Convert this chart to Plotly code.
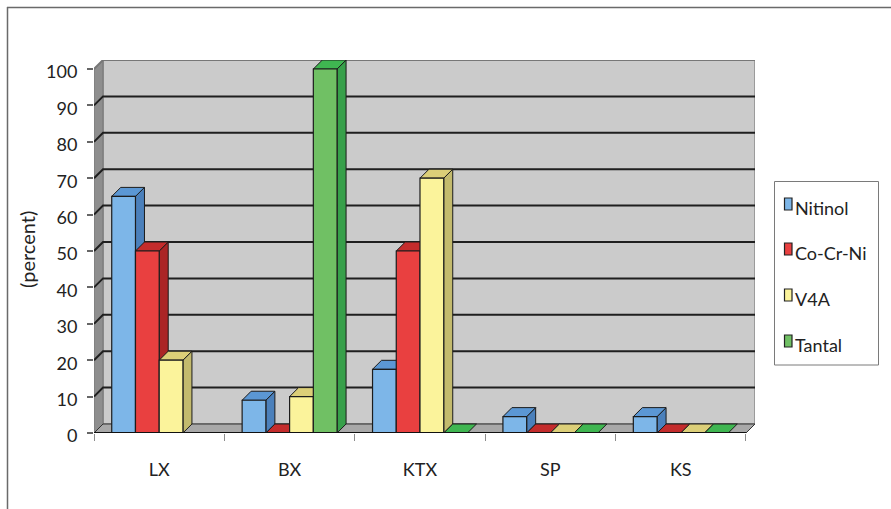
import plotly.graph_objects as go

# Chart data (None where a material has no bar in that group)
categories = ["LX", "BX", "KTX", "SP", "KS"]
nitinol = [65, 9, 17.5, 4.5, 4.5]
co_cr_ni = [50, 0, 50, 0, 0]
v4a = [20, 10, 70, 0, 0]
tantal = [None, 100, 0, 0, 0]
series_names = ["Nitinol", "Co-Cr-Ni", "V4A", "Tantal"]
y_ticks = list(range(0, 101, 10))

# front, top and side colours per series
front_colors = ["#7db6e8", "#e94040", "#fbf39b", "#70c064"]
top_colors = ["#5b97d4", "#c42c2c", "#dccf78", "#3fb651"]
side_colors = ["#4b80bb", "#ab2526", "#c3ba6d", "#37a04a"]

# Page geometry
W, H = 891, 509
L, R, T, B = 94, 755, 60, 433
FONT = "Lato"
TEXT = "#222222"

# Depth of the pseudo-3D box, in axis units
cat_px = 130.2
val_px = 3.64
dx = 9 / cat_px
dy = 9 / val_px
x_max = len(categories) + dx
y_max = 100 + dy

# Bar layout inside each category
group_frac = 0.728
bar_w = group_frac / len(series_names)


def poly(points, fill, line="#1c1c1c", width=1.0):
    path = "M" + " L".join(f"{x},{y}" for x, y in points) + " Z"
    return dict(type="path", path=path, xref="x", yref="y", layer="below",
                fillcolor=fill, line=dict(color=line, width=width))


def seg(points, color, width):
    path = "M" + " L".join(f"{x},{y}" for x, y in points)
    return dict(type="path", path=path, xref="x", yref="y", layer="below",
                line=dict(color=color, width=width))


def px(x):
    return (x - L) / (R - L)


def py(y):
    return (B - y) / (B - T)


shapes = []
# back wall, side wall and floor
shapes.append(poly([(dx, dy), (x_max, dy), (x_max, y_max), (dx, y_max)], "#cbcbcb", "#8c8c8c", 1.5))
shapes.append(poly([(0, 0), (dx, dy), (dx, y_max), (0, 100)], "#8e8e8e", "#777777", 1))
shapes.append(poly([(0, 0), (len(categories), 0), (x_max, dy), (dx, dy)], "#a8a8a8", "#333333", 1))

# gridlines running across the side wall and the back wall
for v in y_ticks[1:-1]:
    shapes.append(seg([(0, v), (dx, v + dy), (x_max, v + dy)], "#1f1f1f", 2))
shapes.append(seg([(0, 100), (dx, y_max), (x_max, y_max)], "#777777", 2))

# side and top faces of the bars, back to front within each group
all_series = [nitinol, co_cr_ni, v4a, tantal]
for c in range(len(categories)):
    for s, values in enumerate(all_series):
        v = values[c]
        if v is None:
            continue
        x0 = c + 0.5 - group_frac / 2 + s * bar_w
        x1 = x0 + bar_w
        if v > 0:
            shapes.append(poly([(x1, 0), (x1 + dx, dy), (x1 + dx, v + dy), (x1, v)], side_colors[s]))
        shapes.append(poly([(x0, v), (x1, v), (x1 + dx, v + dy), (x0 + dx, v + dy)], top_colors[s]))

# outer frame
shapes.append(dict(type="line", xref="paper", yref="paper", x0=px(7), x1=px(891), y0=py(7.5), y1=py(7.5),
                   line=dict(color="#6a6a6a", width=1.5)))
shapes.append(dict(type="line", xref="paper", yref="paper", x0=px(7.5), x1=px(7.5), y0=py(7), y1=py(509),
                   line=dict(color="#6a6a6a", width=1.5)))

# legend box with its keys and labels
shapes.append(dict(type="rect", xref="paper", yref="paper", x0=px(774.5), x1=px(878.5), y0=py(181.5), y1=py(365),
                   line=dict(color="#7a7a7a", width=1), fillcolor="white"))
legend_rows = [205, 250, 296, 342]
annotations = []
for name, row, color in zip(series_names, legend_rows, front_colors):
    shapes.append(dict(type="rect", xref="paper", yref="paper", x0=px(784.5), x1=px(792), y0=py(row - 7), y1=py(row + 5),
                       line=dict(color="#222222", width=1.2), fillcolor=color))
    annotations.append(dict(text=name, xref="paper", yref="paper", x=px(792.5), y=py(row + 3),
                            xanchor="left", yanchor="middle", showarrow=False,
                            font=dict(family=FONT, size=18, color=TEXT)))

# y-axis title
annotations.append(dict(text="(percent)", xref="paper", yref="paper", x=px(27), y=py(250),
                        textangle=-90, xanchor="center", yanchor="middle", showarrow=False,
                        font=dict(family=FONT, size=20, color=TEXT)))

fig = go.Figure()
centers = [i + 0.5 for i in range(len(categories))]
for name, values, color in zip(series_names, all_series, front_colors):
    fig.add_bar(x=centers, y=values, name=name, marker=dict(color=color, line=dict(color="#1c1c1c", width=1.2)),
                showlegend=False, hoverinfo="x+y")

fig.update_layout(
    width=W, height=H, autosize=False,
    margin=dict(l=L, r=W - R, t=T, b=H - B, pad=0),
    paper_bgcolor="white", plot_bgcolor="white",
    barmode="group", bargap=1 - group_frac, bargroupgap=0,
    shapes=shapes, annotations=annotations, showlegend=False,
    font=dict(family=FONT, size=18, color=TEXT),
    xaxis=dict(
        range=[0, x_max], showgrid=False, zeroline=False,
        tickmode="array", tickvals=centers, ticktext=categories,
        ticks="outside", ticklen=20, tickwidth=0, tickcolor="rgba(0,0,0,0)",
        tickfont=dict(family=FONT, size=18, color=TEXT),
        minor=dict(tickmode="array", tickvals=list(range(len(categories) + 1)),
                   ticks="outside", ticklen=7, tickwidth=1, tickcolor="#8c8c8c"),
    ),
    yaxis=dict(
        range=[0, y_max], showgrid=False, zeroline=False,
        tickmode="array", tickvals=y_ticks,
        ticks="outside", ticklen=6, tickwidth=1.5, tickcolor="#666666",
        ticklabelstandoff=6, ticklabelshift=3,
        tickfont=dict(family=FONT, size=18, color=TEXT),
    ),
)

# baseline drawn above the bars
fig.add_shape(type="line", xref="x", yref="y", x0=0, x1=len(categories), y0=0, y1=0,
              line=dict(color="#111111", width=2), layer="above")

fig.write_html("out.html")
